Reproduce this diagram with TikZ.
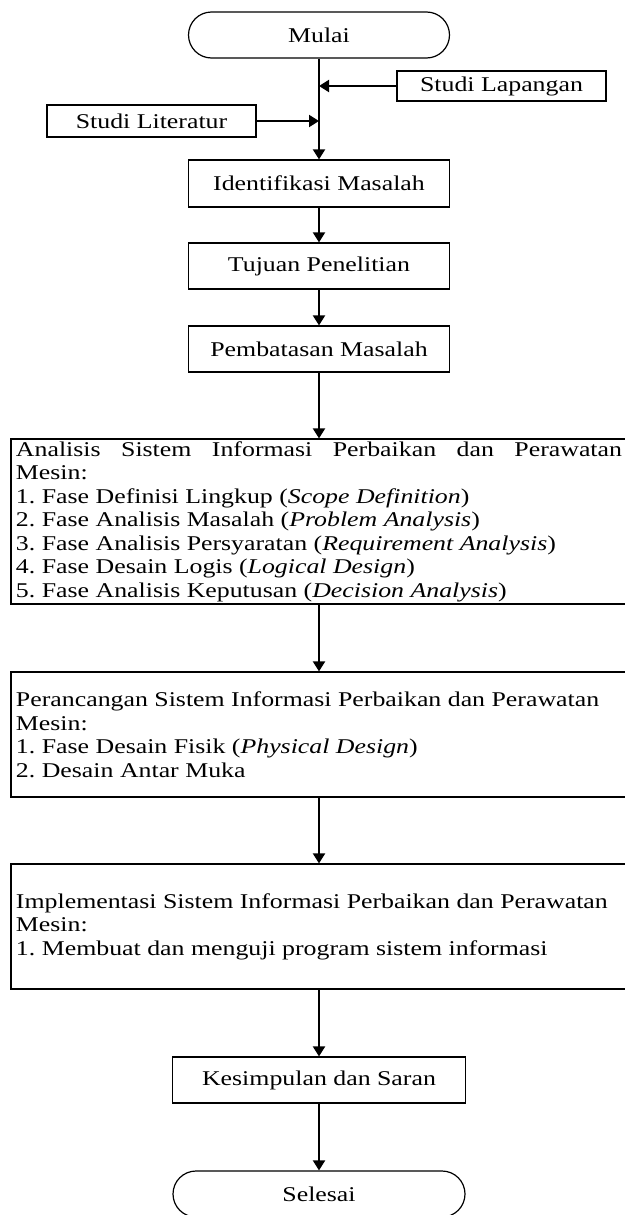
\documentclass[tikz,border=0pt]{standalone}
\usepackage{fontspec}
\setmainfont[FakeStretch=1.23]{Liberation Serif}
\usetikzlibrary{arrows.meta}

\tikzset{every picture/.style={line width=0.75pt}}
\tikzset{
  box/.style={draw, line width=0.6pt, inner sep=0pt, align=center},
  terminal/.style={box, rounded corners=11.5pt},
  widebox/.style={draw, line width=0.6pt, inner xsep=2.5pt, inner ysep=0pt, text width=303pt, align=left, minimum width=308pt,
    execute at begin node={\spaceskip=0pt\xspaceskip=0pt\frenchspacing}},
  arr/.style={line width=1pt, -{Triangle[length=5pt,width=6pt]}},
}

\begin{document}
\begin{tikzpicture}[x=0.5pt,y=0.5pt,yscale=-1,xscale=1,font=\fontsize{10.5}{11.75}\selectfont]
\useasboundingbox (0,0) rectangle (625,1215);
%Shape: Terminal
\node[terminal, minimum width=130.5pt, minimum height=23pt] (mulai) at (319,35) {Mulai};
%Shape: Rectangle
\node[box, minimum width=104.5pt, minimum height=15pt] (lapangan) at (501.5,86) {Studi Lapangan};
%Shape: Rectangle
\node[box, minimum width=104.5pt, minimum height=16pt] (literatur) at (151.5,121) {Studi Literatur};
%Shape: Rectangle
\node[box, minimum width=130.5pt, minimum height=23.5pt] (identifikasi) at (319,183.5) {Identifikasi Masalah};
%Shape: Rectangle
\node[box, minimum width=130.5pt, minimum height=23pt] (tujuan) at (319,266) {Tujuan Penelitian};
%Shape: Rectangle
\node[box, minimum width=130.5pt, minimum height=23pt] (pembatasan) at (319,349) {Pembatasan Masalah};
%Shape: Rectangle
\node[widebox, minimum height=82.5pt] (analisis) at (319,521.5) {\makebox[303pt][s]{Analisis\hfill Sistem\hfill Informasi\hfill Perbaikan\hfill dan\hfill Perawatan}\\
Mesin:\\
1. Fase Definisi Lingkup (\textit{Scope Definition})\\
2. Fase Analisis Masalah (\textit{Problem Analysis})\\
3. Fase Analisis Persyaratan (\textit{Requirement Analysis})\\
4. Fase Desain Logis (\textit{Logical Design})\\
5. Fase Analisis Keputusan (\textit{Decision Analysis})};
%Shape: Rectangle
\node[widebox, minimum height=62.5pt] (perancangan) at (319,734.5) {Perancangan Sistem Informasi Perbaikan dan Perawatan\\
Mesin:\\
1. Fase Desain Fisik (\textit{Physical Design})\\
2. Desain Antar Muka};
%Shape: Rectangle
\node[widebox, minimum height=62.5pt] (implementasi) at (319,926.5) {Implementasi Sistem Informasi Perbaikan dan Perawatan\\
Mesin:\\
1. Membuat dan menguji program sistem informasi};
%Shape: Rectangle
\node[box, minimum width=146.5pt, minimum height=23pt] (kesimpulan) at (319,1080) {Kesimpulan dan Saran};
%Shape: Terminal
\node[terminal, minimum width=146pt, minimum height=23pt] (selesai) at (319,1194) {Selesai};

%Straight Lines
\draw[arr] (mulai) -- (identifikasi);
\draw[arr] (lapangan) -- (lapangan -| mulai.south);
\draw[arr] (literatur) -- (literatur -| mulai.south);
\draw[arr] (identifikasi) -- (tujuan);
\draw[arr] (tujuan) -- (pembatasan);
\draw[arr] (pembatasan) -- (analisis);
\draw[arr] (analisis) -- (perancangan);
\draw[arr] (perancangan) -- (implementasi);
\draw[arr] (implementasi) -- (kesimpulan);
\draw[arr] (kesimpulan) -- (selesai);
\end{tikzpicture}
\end{document}
